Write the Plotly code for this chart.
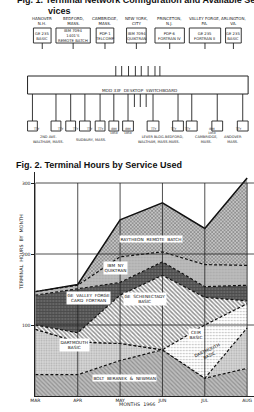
import plotly.graph_objects as go

# ---------------- data (Fig. 2) ----------------
months = ["MAR", "APR", "MAY", "JUN", "JUL", "AUG"]
bbn = [30, 30, 50, 65, 25, 39]
dartmouth = [64, 46, 24, 0, 0, 57]
ceir = [0, 0, 0, 0, 75, 34]
schenectady = [6, 13, 68, 105, 39, 4]
valley_forge = [42, 62, 18, 19, 15, 22]
ibm_ny = [5, 5, 36, 14, 31, 28]
raytheon = [0, 1, 52, 69, 51, 123]
y_ticks = [100, 200, 300]

# ---------------- text for Fig. 1 ----------------
top_sites = ["HANOVER<br>N.H.", "BEDFORD,<br>MASS.", "CAMBRIDGE,<br>MASS.", "NEW YORK,<br>CITY",
             "PRINCETON,<br>N.J.", "VALLEY FORGE,<br>PA.", "ARLINGTON,<br>VA."]
top_services = ["GE 235<br>BASIC", "IBM 7094<br>1401'S<br>REMOTE BATCH", "PDP-1<br>TELCOMP",
                "IBM 7094<br>QUIKTRAN", "PDP-6<br>FORTRAN IV", "GE 235<br>FORTRAN II", "GE 235<br>BASIC"]
terminals = ["TTY", "TTY", "TTY", "TTY", "TTY", "IBM<br>1050", "IBM<br>1050", "TTY", "TTY", "TTY",
             "IBM<br>1050", "TTY"]
bottom_sites = ["2ND AVE.<br>WALTHAM, MASS.", "SUDBURY, MASS.", "LEVER BLDG.<br>WALTHAM, MASS.",
                "BEDFORD,<br>MASS.", "CAMBRIDGE,<br>MASS.", "ANDOVER<br>MASS."]

# ---------------- layout geometry (pixels) ----------------
W, H = 254, 412
def px(x): return x / W
def py(y): return 1 - y / H

top_box_x = [(29, 47), (52, 87), (93, 111), (124, 144), (153, 183), (188, 220), (225, 241)]
top_box_y = (28, 43)
stub_x = [113, 119, 126, 133, 139, 146, 153, 158]
term_box_x = [(23, 33), (47, 57), (62, 72), (76, 87), (92, 102), (106, 116), (120, 131),
              (145, 157), (171, 182), (185, 196), (211, 222), (237, 248)]
term_box_y = (121, 131)
hang_x = [132, 138, 144]
bottom_site_x = [28, 88, 151, 183, 217, 243]

FONT = "DejaVu Sans"
TXT = "#222"

fig = go.Figure()

series = [
    ("BBN", bbn, dict(shape="\\", bgcolor="#bdbdbd", fgcolor="#666666", size=3, solidity=0.4), "dash"),
    ("Dartmouth", dartmouth, dict(shape=".", bgcolor="#d6d6d6", fgcolor="#888888", size=2.5, solidity=0.35), "dash"),
    ("CEIR", ceir, dict(shape=".", bgcolor="#ffffff", fgcolor="#777777", size=3, solidity=0.25), "dash"),
    ("Schenectady", schenectady, dict(shape="\\", bgcolor="#ffffff", fgcolor="#222222", size=3, solidity=0.5), "dash"),
    ("Valley Forge", valley_forge, dict(shape="+", bgcolor="#666666", fgcolor="#2a2a2a", size=3, solidity=0.45), "dash"),
    ("IBM NY", ibm_ny, dict(shape=".", bgcolor="#bcbcbc", fgcolor="#959595", size=3, solidity=0.3), "dash"),
    ("Raytheon", raytheon, dict(shape="x", bgcolor="#c4c4c4", fgcolor="#474747", size=2.5, solidity=0.5), "solid"),
]
for name, vals, pat, dash in series:
    fig.add_trace(go.Scatter(
        x=months, y=vals, name=name, stackgroup="one", mode="lines",
        line=dict(color="#111", width=1.5 if dash == "solid" else 1.2,
                  dash="solid" if dash == "solid" else "3px,2px", shape="linear"),
        fillcolor=pat["bgcolor"], fillpattern=pat, hoverinfo="skip",
    ))

shapes = []
annotations = []

# Fig.1 top row
for (x0, x1), site, serv in zip(top_box_x, top_sites, top_services):
    cx = (x0 + x1) / 2
    shapes.append(dict(type="rect", xref="paper", yref="paper", x0=px(x0), x1=px(x1),
                       y0=py(top_box_y[1]), y1=py(top_box_y[0]), line=dict(color="#222", width=0.9)))
    shapes.append(dict(type="line", xref="paper", yref="paper", x0=px(cx), x1=px(cx),
                       y0=py(49), y1=py(top_box_y[1]), line=dict(color="#222", width=0.9)))
    annotations.append(dict(xref="paper", yref="paper", x=px(cx), y=py(21), text=site, showarrow=False,
                            font=dict(size=4, family=FONT, color=TXT), xanchor="center", yanchor="middle"))
    annotations.append(dict(xref="paper", yref="paper", x=px(cx), y=py(35.5), text=serv, showarrow=False,
                            font=dict(size=3.8, family=FONT, color=TXT), xanchor="center", yanchor="middle"))

for sx in stub_x:
    shapes.append(dict(type="line", xref="paper", yref="paper", x0=px(sx), x1=px(sx),
                       y0=py(76), y1=py(66), line=dict(color="#222", width=0.9)))

# switchboard
shapes.append(dict(type="rect", xref="paper", yref="paper", x0=px(23), x1=px(248), y0=py(94), y1=py(76),
                   line=dict(color="#222", width=1)))
annotations.append(dict(xref="paper", yref="paper", x=px(137), y=py(86), text="MOD 33F  DESKTOP  SWITCHBOARD",
                        showarrow=False, font=dict(size=4.2, family=FONT, color=TXT)))

for (x0, x1), lab in zip(term_box_x, terminals):
    cx = (x0 + x1) / 2
    shapes.append(dict(type="rect", xref="paper", yref="paper", x0=px(x0), x1=px(x1),
                       y0=py(term_box_y[1]), y1=py(term_box_y[0]), line=dict(color="#222", width=0.9)))
    shapes.append(dict(type="line", xref="paper", yref="paper", x0=px(cx), x1=px(cx),
                       y0=py(term_box_y[0]), y1=py(94), line=dict(color="#222", width=0.9)))
    annotations.append(dict(xref="paper", yref="paper", x=px(cx), y=py(126), text=lab, showarrow=False,
                            font=dict(size=3, family=FONT, color=TXT), borderpad=0))
for hx in hang_x:
    shapes.append(dict(type="line", xref="paper", yref="paper", x0=px(hx), x1=px(hx),
                       y0=py(107), y1=py(94), line=dict(color="#222", width=0.9)))
for bx, lab in zip(bottom_site_x, bottom_sites):
    annotations.append(dict(xref="paper", yref="paper", x=px(bx), y=py(139.5), text=lab, showarrow=False,
                            font=dict(size=3.5, family=FONT, color=TXT), borderpad=0))

# Fig.1 title (top line partly cut)
annotations.append(dict(xref="paper", yref="paper", x=px(10), y=py(-0.5), xanchor="left", yanchor="middle",
                        text="<b>Fig. 1. Terminal Network Configuration and Available Ser-</b>",
                        showarrow=False, font=dict(size=9, family="Liberation Sans", color="#111")))
annotations.append(dict(xref="paper", yref="paper", x=px(42), y=py(10.5), xanchor="left", yanchor="middle",
                        text="<b>vices</b>", showarrow=False, font=dict(size=9, family="Liberation Sans", color="#111")))

# Fig. 2 title
annotations.append(dict(xref="paper", yref="paper", x=px(9), y=py(165), xanchor="left", yanchor="middle",
                        text="<b>Fig. 2. Terminal Hours by Service Used</b>",
                        showarrow=False, font=dict(size=9, family="Liberation Sans", color="#111")))

# Chart grid lines (above areas)
for m in months:
    shapes.append(dict(type="line", xref="x", yref="y", x0=m, x1=m, y0=0, y1=300, layer="above",
                       line=dict(color="#222", width=0.8)))
for t in y_ticks:
    shapes.append(dict(type="line", xref="x", yref="y", x0=0, x1=5.162, y0=t, y1=t, layer="above",
                       line=dict(color="#222", width=0.8)))

# In-chart labels
lab_font = dict(size=4.3, family=FONT, color="#111")
chart_labels = [
    ("RAYTHEON  REMOTE  BATCH", 149, 239, 0),
    ("IBM  NY<br>QUIKTRAN", 113, 268, 0),
    ("GE  VALLEY  FORGE<br>CARD  FORTRAN", 62, 305, 0),
    ("GE  SCHENECTADY<br>BASIC", 143, 306, 0),
    ("DARTMOUTH<br>BASIC", 55, 352, 0),
    ("BOLT  BERANEK  &  NEWMAN", 122, 382, 0),
    ("CEIR<br>BASIC", 203, 342, 0),
    ("DARTMOUTH<br>BASIC", 225, 366, -25),
]
for text, x, y, ang in chart_labels:
    annotations.append(dict(xref="paper", yref="paper", x=px(x), y=py(y), text=text, showarrow=False,
                            font=lab_font, bgcolor="white" if ang == 0 else None, borderpad=0.5,
                            textangle=ang))

# axis titles
annotations.append(dict(xref="paper", yref="paper", x=px(12), y=py(292), text="TERMINAL  HOURS  BY  MONTH",
                        showarrow=False, textangle=-90, font=dict(size=4.8, family=FONT, color=TXT)))
annotations.append(dict(xref="paper", yref="paper", x=px(135), y=py(408.5), text="MONTHS  1966",
                        showarrow=False, font=dict(size=4.8, family=FONT, color=TXT)))

fig.update_layout(
    width=W, height=H, margin=dict(l=0, r=0, t=0, b=0),
    paper_bgcolor="white", plot_bgcolor="white", showlegend=False,
    shapes=shapes, annotations=annotations,
    xaxis=dict(domain=[px(31), 1], range=[0, 5.162], type="category", showgrid=False,
               showline=True, linecolor="#222", linewidth=1, ticks="", zeroline=False,
               tickfont=dict(size=4.5, family=FONT, color=TXT)),
    yaxis=dict(domain=[py(396), py(172)], range=[0, 315.5], showgrid=False, zeroline=False,
               showline=True, linecolor="#222", linewidth=1, ticks="outside", ticklen=3,
               tickcolor="#222", tickvals=y_ticks, tickfont=dict(size=4.5, family=FONT, color=TXT)),
)

fig.write_html("out.html")
